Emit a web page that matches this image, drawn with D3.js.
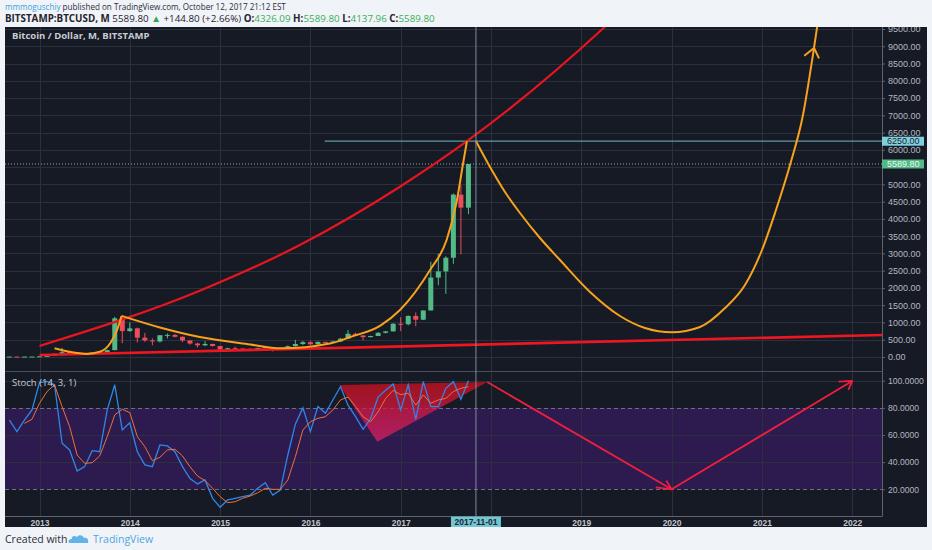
<!DOCTYPE html>
<html lang="en">
<head>
<meta charset="UTF-8">
<title>Bitcoin / Dollar, M, BITSTAMP</title>
<script src="https://d3js.org/d3.v7.min.js"></script>
<style>
  body { margin: 0; background: #f0f3f8; }
  svg { display: block; font-family: "Liberation Sans", Arial, sans-serif; }
  .grid line { stroke: #2c303c; stroke-width: 1; shape-rendering: crispEdges; }
  .axis text { fill: #b4b7c0; font-size: 9px; }
  .axis line { stroke: #5f636e; }
  .axis path { display: none; }
  .time text { font-weight: bold; font-size: 8.5px; fill: #c3c6cd; }
</style>
</head>
<body>
<svg id="chart" width="932" height="550"></svg>
<script>
// ---- monthly candles, BITSTAMP:BTCUSD ----
const months = [
  "2012-08","2012-09","2012-10","2012-11","2012-12",
  "2013-01","2013-02","2013-03","2013-04","2013-05","2013-06","2013-07","2013-08","2013-09","2013-10","2013-11","2013-12",
  "2014-01","2014-02","2014-03","2014-04","2014-05","2014-06","2014-07","2014-08","2014-09","2014-10","2014-11","2014-12",
  "2015-01","2015-02","2015-03","2015-04","2015-05","2015-06","2015-07","2015-08","2015-09","2015-10","2015-11","2015-12",
  "2016-01","2016-02","2016-03","2016-04","2016-05","2016-06","2016-07","2016-08","2016-09","2016-10","2016-11","2016-12",
  "2017-01","2017-02","2017-03","2017-04","2017-05","2017-06","2017-07","2017-08","2017-09","2017-10"
];
const opens = [
  9.4, 10.1, 12.4, 11.2, 12.5,
  13.5, 20.4, 33.4, 93, 139, 129, 97, 106, 135, 133, 198, 1120,
  750, 830, 560, 480, 450, 630, 640, 585, 480, 390, 338, 378,
  318, 218, 254, 244, 236, 230, 263, 284, 230, 236, 314, 377,
  430, 368, 437, 416, 448, 531, 673, 624, 575, 609, 700, 742,
  963, 950, 1190, 1080, 1348, 2300, 2480, 2875, 4703, 4326.09
];
const highs = [
  15.4, 12.9, 12.9, 13.0, 13.9,
  21.0, 33.8, 95.7, 266, 140, 129, 111, 135, 149, 212, 1163, 1150,
  1000, 850, 700, 540, 630, 680, 660, 600, 490, 415, 460, 385,
  320, 265, 300, 262, 247, 268, 318, 285, 246, 333, 495, 467,
  462, 448, 440, 468, 553, 780, 705, 624, 615, 719, 757, 980,
  1153, 1200, 1290, 1350, 2760, 2990, 2920, 4736, 4980, 5589.80
];
const lows = [
  7.1, 9.9, 9.8, 10.2, 12.1,
  13.1, 19.1, 33.1, 50, 79, 88, 65, 96, 110, 107, 197, 400,
  730, 420, 440, 340, 420, 540, 570, 430, 360, 275, 315, 305,
  152, 210, 235, 210, 228, 216, 253, 162, 225, 236, 300, 350,
  350, 366, 394, 412, 436, 522, 603, 480, 572, 604, 680, 740,
  752, 915, 890, 1070, 1345, 2080, 1830, 2700, 2972, 4137.96
];
const closes = [
  10.1, 12.4, 11.2, 12.5, 13.5,
  20.4, 33.4, 93, 139, 129, 97, 106, 135, 133, 198, 1120, 750,
  830, 560, 480, 450, 630, 640, 585, 480, 390, 338, 378, 318,
  218, 254, 244, 236, 230, 263, 284, 230, 236, 314, 377, 430,
  368, 437, 416, 448, 531, 673, 624, 575, 609, 700, 742, 963,
  950, 1190, 1080, 1348, 2300, 2480, 2875, 4703, 4326.09, 5589.80
];

// ---- Stoch (14, 3, 1): %K from 2012-09, %D from 2012-11 ----
const kStart = "2012-09";
const kValues = [
  71, 62.5, 71, 78.5,
  98.6, 99.5, 97, 54, 49, 33.5, 36.7, 48.5, 47.7, 78.5, 97, 63.7,
  69, 47.7, 38, 36.7, 52.7, 52, 47.7, 36.7, 28, 24, 26.9, 13.4,
  6.8, 12.2, 13.4, 14.6, 15.8, 20.8, 24.9, 15.8, 19.5, 45.3, 68, 80,
  62.5, 81, 76, 86, 95.6, 82, 73.5, 64.2, 72, 88, 93, 97.6,
  78.5, 96.9, 71.6, 99.3, 80.9, 80.9, 94.4, 99.3, 86.3, 100
];
const dStart = "2012-11";
const dValues = [
  68.6, 71.6,
  83.4, 92, 96.9, 80.9, 66.2, 45.3, 39.2, 39.6, 44.6, 58.8, 74.8, 79,
  76.5, 58.8, 51.4, 41.1, 43.6, 49, 49.5, 44.6, 36.7, 29.8, 26.4, 20.8,
  14.6, 10.2, 10.9, 13.4, 15.1, 17.5, 20.8, 20, 20, 26.9, 44, 63.7,
  69.8, 72.3, 73.5, 78.5, 85.8, 88, 80.9, 73.5, 69.8, 77, 87, 92.9,
  89.7, 90.8, 82, 89.5, 83.4, 85.8, 87, 92, 94.4, 95.6
];

// ---- drawings: [months since 2013-01, price] ----
const redUpper = [[0, 319], [21.3, 1920], [34.6, 3244], [47.9, 4932], [56.8, 6250], [75.1, 9557], [82, 11000]];
const redLower = [[0, 58], [112, 637]];
const orange2013 = [[2, 252], [4, 150], [6.3, 90], [8, 150], [9.4, 400], [10.3, 780], [10.9, 1190]];
const orangeSwing = [[10.9, 1190], [16, 855], [21.3, 579], [28, 362], [32, 250], [38.6, 391], [41.3, 579],
  [45.3, 910], [47.9, 1361], [51.9, 2520], [54.1, 3388], [55.4, 4460], [56.3, 5618], [56.8, 6250]];
const orangeForecast = [[58, 6250], [59.87, 5502], [61.86, 4778], [63.85, 4170], [66.51, 3446], [69.17, 2809],
  [73.16, 1882], [77.14, 1187], [80.46, 840], [84.05, 715], [87.77, 869], [91.1, 1419], [93.75, 2085],
  [96.01, 3099], [97.74, 4170], [99.73, 5560], [101.46, 7008], [102.78, 8746], [103.44, 9702], [103.84, 10339]];
const orangeHead = [[101.63, 8726], [102.93, 8949], [103.59, 8650]];
const levelRay = {from: 37.9, price: 6250};
const lastPrice = 5589.80;
const cursorMonth = 58;

// stoch drawings: [months since 2013-01, value]
const stochWedge = [[39.84, 96.9], [44.9, 55.1], [59.5, 99]];
const stochPath = [[59.5, 99], [84, 20], [108, 99.8]];
const stochHead1 = [[81.9, 21.5], [84, 20], [83.3, 26.4]];
const stochHead2 = [[106.2, 99.3], [108, 99.8], [107.5, 93.2]];

const yearTicks = [0, 12, 24, 36, 48, 60, 72, 84, 96, 108];
const priceTicks = d3.range(0, 9501, 500);
const stochTicks = [20, 40, 60, 80, 100];

// ---- layout ----
const W = 932, H = 550;
const panel = {left: 5, right: 927, top: 27, bottom: 527};
const plotRight = 882, mainBottom = 371, stochTop = 372, stochBottom = 516.5;

const mi = s => { const [y, m] = s.split("-").map(Number); return (y - 2013) * 12 + (m - 1); };

const x = d3.scaleLinear().domain([0, 108]).range([39.5, 852.2]);
const y = d3.scaleLinear().domain([0, 9500]).range([357, 29]);
const ys = d3.scaleLinear().domain([0, 100]).range([stochBottom, 380.7]);

const svg = d3.select("#chart");
const defs = svg.append("defs");
defs.append("clipPath").attr("id", "clipMain").append("rect")
  .attr("x", panel.left).attr("y", panel.top).attr("width", plotRight - panel.left).attr("height", mainBottom - panel.top);
defs.append("clipPath").attr("id", "clipStoch").append("rect")
  .attr("x", panel.left).attr("y", stochTop).attr("width", plotRight - panel.left).attr("height", stochBottom - stochTop);
defs.append("clipPath").attr("id", "clipPanel").append("rect")
  .attr("x", panel.left).attr("y", panel.top).attr("width", panel.right - panel.left).attr("height", panel.bottom - panel.top);
const grad = defs.append("linearGradient").attr("id", "wedgeFill").attr("x1", 0).attr("y1", 0).attr("x2", 0).attr("y2", 1);
grad.append("stop").attr("offset", "0%").attr("stop-color", "#d0101c").attr("stop-opacity", 0.75);
grad.append("stop").attr("offset", "100%").attr("stop-color", "#e0206a").attr("stop-opacity", 0.72);

svg.append("rect").attr("width", W).attr("height", H).attr("fill", "#f0f3f8");
svg.append("rect").attr("x", panel.left).attr("y", panel.top)
  .attr("width", panel.right - panel.left).attr("height", panel.bottom - panel.top).attr("fill", "#161a25");

// ---- grid ----
const main = svg.append("g").attr("clip-path", "url(#clipMain)");
const stoch = svg.append("g").attr("clip-path", "url(#clipStoch)");

main.append("g").attr("class", "grid").selectAll("line").data(priceTicks).join("line")
  .attr("x1", panel.left).attr("x2", plotRight)
  .attr("y1", d => Math.round(y(d)) + 0.5).attr("y2", d => Math.round(y(d)) + 0.5);
main.append("g").attr("class", "grid").selectAll("line").data(yearTicks).join("line")
  .attr("x1", d => Math.round(x(d)) + 0.5).attr("x2", d => Math.round(x(d)) + 0.5)
  .attr("y1", panel.top).attr("y2", mainBottom);

stoch.append("rect").attr("x", panel.left).attr("width", plotRight - panel.left)
  .attr("y", ys(80)).attr("height", ys(20) - ys(80)).attr("fill", "#2d1b4f");
stoch.append("g").attr("class", "grid").selectAll("line").data([40, 60, 100]).join("line")
  .attr("x1", panel.left).attr("x2", plotRight)
  .attr("y1", d => Math.round(ys(d)) + 0.5).attr("y2", d => Math.round(ys(d)) + 0.5);
stoch.append("g").attr("class", "grid").selectAll("line").data(yearTicks).join("line")
  .attr("x1", d => Math.round(x(d)) + 0.5).attr("x2", d => Math.round(x(d)) + 0.5)
  .attr("y1", stochTop).attr("y2", stochBottom);
stoch.append("g").selectAll("line").data([20, 80]).join("line")
  .attr("x1", panel.left).attr("x2", plotRight)
  .attr("y1", d => Math.round(ys(d)) + 0.5).attr("y2", d => Math.round(ys(d)) + 0.5)
  .attr("stroke", "#6c6f7c").attr("stroke-dasharray", "4,3");

// ---- candles ----
const candles = months.map((m, i) => ({m: mi(m), o: opens[i], h: highs[i], l: lows[i], c: closes[i]}));
const cg = main.append("g");
cg.selectAll("line").data(candles).join("line")
  .attr("x1", d => x(d.m)).attr("x2", d => x(d.m))
  .attr("y1", d => y(d.h)).attr("y2", d => y(d.l))
  .attr("stroke", d => d.c >= d.o ? "#53b987" : "#eb4d5c").attr("stroke-width", 1);
cg.selectAll("rect").data(candles).join("rect")
  .attr("x", d => x(d.m) - 2.5).attr("width", 5)
  .attr("y", d => y(Math.max(d.o, d.c)))
  .attr("height", d => Math.max(1, y(Math.min(d.o, d.c)) - y(Math.max(d.o, d.c))))
  .attr("fill", d => d.c >= d.o ? "#53b987" : "#eb4d5c");

// ---- price drawings ----
const pline = d3.line().x(d => x(d[0])).y(d => y(d[1]));
const pcurve = d3.line().x(d => x(d[0])).y(d => y(d[1])).curve(d3.curveMonotoneX);

main.append("line").attr("x1", panel.left).attr("x2", plotRight)
  .attr("y1", y(lastPrice)).attr("y2", y(lastPrice))
  .attr("stroke", "#9aa0ab").attr("stroke-dasharray", "1,2");
main.append("line").attr("x1", x(levelRay.from)).attr("x2", plotRight)
  .attr("y1", y(levelRay.price)).attr("y2", y(levelRay.price))
  .attr("stroke", "#5f9aa4").attr("stroke-width", 1.2);

main.append("path").attr("d", pcurve(redUpper)).attr("fill", "none").attr("stroke", "#e8151f").attr("stroke-width", 2.2);
main.append("path").attr("d", pline(redLower)).attr("fill", "none").attr("stroke", "#ee1620").attr("stroke-width", 2.6);
[orange2013, orangeSwing, orangeForecast].forEach(seg => {
  main.append("path").attr("d", pcurve(seg)).attr("fill", "none")
    .attr("stroke", "#f6a21c").attr("stroke-width", 2);
});
main.append("path").attr("d", pline(orangeHead)).attr("fill", "none")
  .attr("stroke", "#f6a21c").attr("stroke-width", 2).attr("stroke-linejoin", "round");

// ---- stoch ----
const sline = d3.line().x(d => x(d[0])).y(d => ys(d[1]));
stoch.append("path").attr("d", sline(stochWedge) + "Z").attr("fill", "url(#wedgeFill)");
const k0 = mi(kStart), d0 = mi(dStart);
stoch.append("path").attr("d", sline(kValues.map((v, i) => [k0 + i, v])))
  .attr("fill", "none").attr("stroke", "#2f86e6").attr("stroke-width", 1.3);
stoch.append("path").attr("d", sline(dValues.map((v, i) => [d0 + i, v])))
  .attr("fill", "none").attr("stroke", "#f0703a").attr("stroke-width", 1);
[stochPath, stochHead1, stochHead2].forEach(p => {
  stoch.append("path").attr("d", sline(p)).attr("fill", "none")
    .attr("stroke", "#f01e3e").attr("stroke-width", 1.8).attr("stroke-linejoin", "round");
});

// ---- pane borders & cursor ----
svg.append("line").attr("x1", panel.left).attr("x2", plotRight).attr("y1", mainBottom + 0.5).attr("y2", mainBottom + 0.5)
  .attr("stroke", "#4a4e5a");
svg.append("line").attr("x1", panel.left).attr("x2", plotRight).attr("y1", stochBottom).attr("y2", stochBottom)
  .attr("stroke", "#5f636e");
svg.append("line").attr("x1", plotRight + 0.5).attr("x2", plotRight + 0.5).attr("y1", panel.top).attr("y2", stochBottom)
  .attr("stroke", "#5f636e");
svg.append("line").attr("x1", x(cursorMonth)).attr("x2", x(cursorMonth)).attr("y1", panel.top).attr("y2", stochBottom)
  .attr("stroke", "#7f8c9e").attr("stroke-width", 1);

// ---- axes ----
const axes = svg.append("g").attr("clip-path", "url(#clipPanel)");
// the 5500 label sits under the last-price tag, the 2018 label under the cursor date
axes.append("g").attr("class", "axis").attr("transform", `translate(${plotRight},0)`)
  .call(d3.axisRight(y).tickValues(priceTicks).tickSize(3).tickPadding(3)
    .tickFormat(d => d === 5500 ? "" : d3.format(".2f")(d)));
axes.append("g").attr("class", "axis").attr("transform", `translate(${plotRight},0)`)
  .call(d3.axisRight(ys).tickValues(stochTicks).tickSize(3).tickPadding(3).tickFormat(d3.format(".4f")))
  .selectAll("text").style("font-size", "8.6px");
axes.append("g").attr("class", "axis time").attr("transform", `translate(0,${stochBottom})`)
  .call(d3.axisBottom(x).tickValues(yearTicks).tickSize(0).tickPadding(3)
    .tickFormat(m => m === 60 ? "" : 2013 + m / 12));

// price labels
function priceTag(val, bg, fg) {
  const g = axes.append("g").attr("transform", `translate(${plotRight},${y(val)})`);
  g.append("rect").attr("x", 0).attr("y", -4.5).attr("width", 42).attr("height", 9).attr("fill", bg);
  g.append("text").attr("x", 5).attr("dy", "0.35em").attr("fill", fg).style("font-size", "9px").text(d3.format(".2f")(val));
}
priceTag(levelRay.price, "#7fd0dd", "#1d2430");
priceTag(lastPrice, "#53b987", "#eaf6ef");

// cursor date label
const dl = axes.append("g").attr("transform", `translate(${x(cursorMonth)},${stochBottom})`);
dl.append("rect").attr("x", -25).attr("y", 0).attr("width", 50).attr("height", 11).attr("fill", "#72c6d2");
dl.append("text").attr("y", 8.3).attr("text-anchor", "middle").attr("fill", "#1d2430")
  .style("font-size", "8.5px").style("font-weight", "bold").text("2017-11-01");

// ---- titles ----
svg.append("text").attr("x", 12).attr("y", 39).attr("fill", "#c9ccd3")
  .style("font-size", "9.5px").style("font-weight", "bold").style("font-family", "'Open Sans', sans-serif")
  .text("Bitcoin / Dollar, M, BITSTAMP");
svg.append("text").attr("x", 12).attr("y", 386).attr("fill", "#c9ccd3")
  .style("font-size", "9.5px").style("font-family", "'Open Sans', sans-serif")
  .text("Stoch (14, 3, 1)");

// shrink a header line to the width it has in the snapshot
function fitWidth(sel, target) {
  const fs = parseFloat(sel.style("font-size"));
  const w = sel.node().getComputedTextLength();
  sel.style("font-size", (fs * target / w).toFixed(2) + "px");
}

const h1 = svg.append("text").attr("x", 5).attr("y", 10)
  .style("font-size", "10px").style("font-family", "'Open Sans', sans-serif").attr("fill", "#2a2e39");
h1.append("tspan").attr("fill", "#3aa3dc").text("mmmoguschiy");
h1.append("tspan").text(" published on TradingView.com, October 12, 2017 21:12 EST");
fitWidth(h1, 281);

const h2 = svg.append("text").attr("x", 5).attr("y", 21.5)
  .style("font-size", "10px").style("font-weight", "bold")
  .style("font-family", "'Open Sans', sans-serif").attr("fill", "#1f232e");
h2.append("tspan").text("BITSTAMP:BTCUSD, M ");
h2.append("tspan").style("font-weight", "normal").text(" 5589.80 ");
h2.append("tspan").attr("fill", "#2ea84a").text("\u25B2");
h2.append("tspan").style("font-weight", "normal").text(" +144.80 (+2.66%) ");
[["O:", "4326.09"], ["H:", "5589.80"], ["L:", "4137.96"], ["C:", "5589.80"]].forEach(([k, v], i) => {
  h2.append("tspan").text(k);
  h2.append("tspan").attr("fill", "#3aae5a").style("font-weight", "normal").text(i < 3 ? v + "  " : v);
});
fitWidth(h2, 430);

// ---- footer ----
svg.append("text").attr("x", 5).attr("y", 543).attr("fill", "#2a2e39")
  .style("font-size", "10.5px").style("font-family", "'Open Sans', sans-serif").text("Created with");
svg.append("path")
  .attr("d", "M69,543 L88,543 C89,540 87,537 84,538 C83,535 79,534 77,537 C75,535 71,536 72,539 C69,539 68,541 69,543 Z")
  .attr("fill", "#62b4e6");
svg.append("text").attr("x", 93).attr("y", 543).attr("fill", "#4ea6df")
  .style("font-size", "10.5px").style("font-family", "'Open Sans', sans-serif").text("TradingView");
</script>
</body>
</html>
